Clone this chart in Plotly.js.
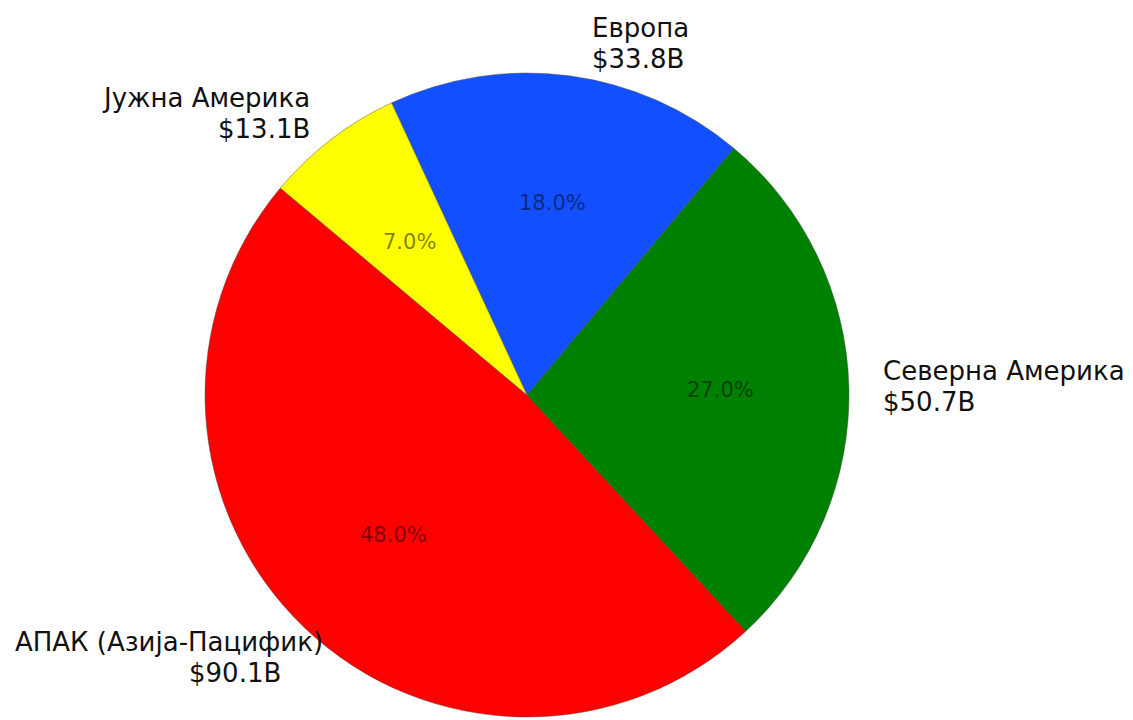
<!DOCTYPE html>
<html>
<head>
<meta charset="utf-8">
<script src="https://cdn.plot.ly/plotly-3.0.1.min.js"></script>
<style>
  html, body { margin: 0; padding: 0; background: #ffffff; }
  #chart { width: 1133px; height: 720px; }
</style>
</head>
<body>
<div id="chart"></div>
<script>
// Revenue by region, billions of dollars
const regions = ['АПАК (Азија-Пацифик)', 'Северна Америка', 'Европа', 'Јужна Америка'];
const revenue = [90.1, 50.7, 33.8, 13.1];
const sliceColors = ['#ff0000', '#008000', '#1250ff', '#ffff00'];

// Figure geometry (pixels)
const W = 1133, H = 720;
const cx = 527, cy = 395, R = 322;
const startAngle = 140;          // degrees, counter-clockwise from 3 o'clock
const labelDist = 1.1, pctDist = 0.6;
const labelFont = 'DejaVu Sans, sans-serif';

// per-label fine placement in pixels: [dxName, dxValue, dy]
const labelNudge = {
  'Европа': [17, 17, 0],
  'АПАК (Азија-Пацифик)': [42, 0, 6]
};

const total = revenue.reduce((a, b) => a + b, 0);
const px = x => x / W;
const py = y => 1 - y / H;

const annotations = [];
let acc = startAngle;
revenue.forEach((v, i) => {
  const span = v / total * 360;
  const mid = (acc + span / 2) * Math.PI / 180;
  acc += span;
  const c = Math.cos(mid), s = Math.sin(mid);

  // percentage inside the slice
  annotations.push({
    x: px(cx + pctDist * R * c), y: py(cy - pctDist * R * s),
    xref: 'paper', yref: 'paper', xanchor: 'center', yanchor: 'middle',
    text: (v / total * 100).toFixed(1) + '%', showarrow: false,
    font: { family: labelFont, size: 21, color: 'rgba(0,0,0,0.5)' }
  });

  // region name and value outside the slice
  const n = labelNudge[regions[i]] || [0, 0, 0];
  const lx = cx + labelDist * R * c, ly = cy - labelDist * R * s + n[2];
  const anchor = c >= 0 ? 'left' : 'right';
  annotations.push({
    x: px(lx + n[0]), y: py(ly - 15.5), xref: 'paper', yref: 'paper',
    xanchor: anchor, yanchor: 'middle', align: anchor,
    text: regions[i], showarrow: false,
    font: { family: labelFont, size: 26, color: '#111111' }
  });
  annotations.push({
    x: px(lx + n[1]), y: py(ly + 15.5), xref: 'paper', yref: 'paper',
    xanchor: anchor, yanchor: 'middle', align: anchor,
    text: '$' + v.toFixed(1) + 'B', showarrow: false,
    font: { family: labelFont, size: 26, color: '#111111' }
  });
});

// In counter-clockwise mode Plotly's rotation marks where the first slice ends,
// so place it after the first slice's span from the start angle.
const firstEnd = startAngle + revenue[0] / total * 360;

const trace = {
  type: 'pie',
  labels: regions,
  values: revenue,
  sort: false,
  direction: 'counterclockwise',
  rotation: 90 - firstEnd,
  marker: { colors: sliceColors, line: { color: 'rgba(70,70,70,0.45)', width: 1 } },
  textinfo: 'none',
  hoverinfo: 'label+value+percent',
  showlegend: false,
  domain: { x: [px(cx - R), px(cx + R)], y: [py(cy + R), py(cy - R)] }
};

const layout = {
  width: W, height: H,
  margin: { l: 0, r: 0, t: 0, b: 0 },
  paper_bgcolor: '#ffffff',
  plot_bgcolor: '#ffffff',
  showlegend: false,
  annotations: annotations
};

Plotly.newPlot('chart', [trace], layout, { displayModeBar: false, staticPlot: true });
</script>
</body>
</html>
